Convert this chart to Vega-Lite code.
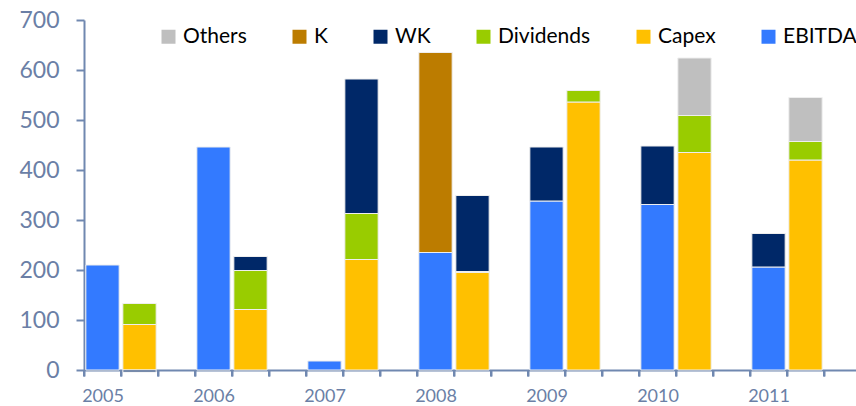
{
  "$schema": "https://vega.github.io/schema/vega-lite/v6.json",
  "width": 772,
  "height": 350,
  "autosize": "none",
  "padding": {"left": 84, "top": 20, "right": 0, "bottom": 36},
  "background": "white",
  "config": {"view": {"stroke": null}, "font": "Lato"},
  "datasets": {
    "bars": [
      {"slot": "2005a", "series": "EBITDA", "ord": 0, "value": 210},
      {"slot": "2005b", "series": "Capex", "ord": 0, "value": 91},
      {"slot": "2005b", "series": "Dividends", "ord": 1, "value": 42},
      {"slot": "2005b", "series": "WK", "ord": 2, "value": -4},
      {"slot": "2006a", "series": "EBITDA", "ord": 0, "value": 446},
      {"slot": "2006b", "series": "Capex", "ord": 0, "value": 121},
      {"slot": "2006b", "series": "Dividends", "ord": 1, "value": 78},
      {"slot": "2006b", "series": "WK", "ord": 2, "value": 28},
      {"slot": "2007a", "series": "EBITDA", "ord": 0, "value": 18},
      {"slot": "2007b", "series": "Capex", "ord": 0, "value": 221},
      {"slot": "2007b", "series": "Dividends", "ord": 1, "value": 92},
      {"slot": "2007b", "series": "WK", "ord": 2, "value": 269},
      {"slot": "2008a", "series": "EBITDA", "ord": 0, "value": 235},
      {"slot": "2008a", "series": "K", "ord": 2, "value": 400},
      {"slot": "2008b", "series": "Capex", "ord": 0, "value": 195},
      {"slot": "2008b", "series": "Dividends", "ord": 1, "value": 2},
      {"slot": "2008b", "series": "WK", "ord": 2, "value": 152},
      {"slot": "2009a", "series": "EBITDA", "ord": 0, "value": 338},
      {"slot": "2009a", "series": "WK", "ord": 2, "value": 108},
      {"slot": "2009b", "series": "Capex", "ord": 0, "value": 536},
      {"slot": "2009b", "series": "Dividends", "ord": 1, "value": 23},
      {"slot": "2010a", "series": "EBITDA", "ord": 0, "value": 331},
      {"slot": "2010a", "series": "WK", "ord": 2, "value": 117},
      {"slot": "2010b", "series": "Capex", "ord": 0, "value": 435},
      {"slot": "2010b", "series": "Dividends", "ord": 1, "value": 74},
      {"slot": "2010b", "series": "Others", "ord": 3, "value": 115},
      {"slot": "2011a", "series": "EBITDA", "ord": 0, "value": 206},
      {"slot": "2011a", "series": "WK", "ord": 2, "value": 67},
      {"slot": "2011b", "series": "Capex", "ord": 0, "value": 420},
      {"slot": "2011b", "series": "Dividends", "ord": 1, "value": 37},
      {"slot": "2011b", "series": "Others", "ord": 3, "value": 88}
    ],
    "slots": [
      {"slot": "2005a"}, {"slot": "2005b"}, {"slot": "2005c"},
      {"slot": "2006a"}, {"slot": "2006b"}, {"slot": "2006c"},
      {"slot": "2007a"}, {"slot": "2007b"}, {"slot": "2007c"},
      {"slot": "2008a"}, {"slot": "2008b"}, {"slot": "2008c"},
      {"slot": "2009a"}, {"slot": "2009b"}, {"slot": "2009c"},
      {"slot": "2010a"}, {"slot": "2010b"}, {"slot": "2010c"},
      {"slot": "2011a"}, {"slot": "2011b"}, {"slot": "2011c"}
    ]
  },
  "encoding": {
    "x": {
      "field": "slot",
      "type": "nominal",
      "scale": {
        "domain": ["2005a","2005b","2005c","2006a","2006b","2006c","2007a","2007b","2007c","2008a","2008b","2008c","2009a","2009b","2009c","2010a","2010b","2010c","2011a","2011b","2011c"],
        "range": [0, 777],
        "paddingInner": 0,
        "paddingOuter": 0
      },
      "axis": {
        "title": null,
        "ticks": true,
        "tickBand": "extent",
        "labelAngle": 0,
        "labelExpr": "indexof('' + datum.value, 'a') > 0 ? substring('' + datum.value, 0, 4) : ''",
        "labelFont": "Lato",
        "labelFontSize": 18,
        "labelColor": "#6b7fa6",
        "labelPadding": 11,
        "tickSize": 6,
        "tickColor": "#7088b0",
        "tickWidth": 2,
        "domainColor": "#7088b0",
        "domainWidth": 2,
        "grid": false
      }
    }
  },
  "layer": [
    {
      "data": {"name": "bars"},
      "mark": {"type": "bar", "width": {"band": 0.9}, "stroke": "#eeeeee", "strokeWidth": 1},
      "encoding": {
        "y": {
          "field": "value",
          "type": "quantitative",
          "stack": "zero",
          "scale": {"domain": [0, 700], "nice": false},
          "axis": {
            "title": null,
            "values": [0, 100, 200, 300, 400, 500, 600, 700],
            "labelFont": "Lato",
            "labelFontSize": 23,
            "labelColor": "#6b7fa6",
            "labelPadding": 17,
            "tickSize": 8,
            "tickColor": "#7088b0",
            "tickWidth": 2,
            "domainColor": "#7088b0",
            "domainWidth": 2,
            "grid": false
          }
        },
        "color": {
          "field": "series",
          "type": "nominal",
          "scale": {
            "domain": ["Others", "K", "WK", "Dividends", "Capex", "EBITDA"],
            "range": ["#bfbfbf", "#bc7c00", "#002868", "#99cc00", "#ffc000", "#337aff"]
          },
          "legend": {
            "title": null,
            "orient": "none",
            "direction": "horizontal",
            "legendX": 74,
            "legendY": 6,
            "padding": 0,
            "symbolType": "square",
            "symbolSize": 196,
            "symbolStrokeWidth": 0,
            "labelFont": "Lato",
            "labelFontSize": 21,
            "labelColor": "#000000",
            "labelOffset": 4,
            "columnPadding": 42
          }
        },
        "order": {"field": "ord", "type": "quantitative", "sort": "ascending"}
      }
    },
    {
      "data": {"name": "slots"},
      "mark": {"type": "rule", "color": "#7088b0", "strokeWidth": 2, "clip": false},
      "encoding": {
        "x": {"field": "slot", "type": "nominal", "bandPosition": 0},
        "y": {"datum": 0, "type": "quantitative"},
        "y2": {"datum": -13}
      }
    }
  ]
}
